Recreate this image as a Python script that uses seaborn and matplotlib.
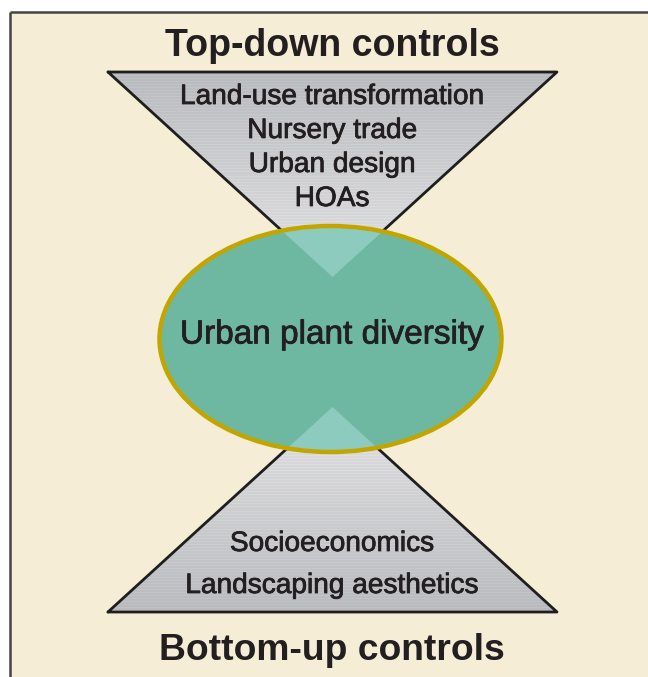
import numpy as np
import pandas as pd
import matplotlib
matplotlib.use("Agg")
import matplotlib.pyplot as plt
from matplotlib.patches import Polygon, Ellipse, Rectangle
import matplotlib.patheffects as pe
import seaborn as sns

# ---- content ----
top_title = "Top-down controls"
bottom_title = "Bottom-up controls"
top_items = ["Land-use transformation", "Nursery trade", "Urban design", "HOAs"]
bottom_items = ["Socioeconomics", "Landscaping aesthetics"]
center_label = "Urban plant diversity"

# ---- geometry (pixel space) ----
W, H = 648, 677
top_tri_x = [108, 557, 332.5]
top_tri_y = [72, 72, 277]
bot_tri_x = [108, 557, 332.5]
bot_tri_y = [612, 612, 407]
ell_center = (330.5, 339)
ell_size = (342, 226)
top_item_y = [97, 131, 165, 199]
bottom_item_y = [544, 586]

sns.set_theme(style="white")
plt.rcParams['font.family'] = ['Liberation Sans', 'DejaVu Sans']

fig = plt.figure(figsize=(W / 100, H / 100), dpi=100)
fig.patch.set_facecolor("#F5EDD6")
ax = fig.add_axes([0, 0, 1, 1])
ax.set_xlim(0, W)
ax.set_ylim(H, 0)
ax.axis("off")

bg = "#F5EDD6"
# white margin left of and above the frame
ax.add_patch(Rectangle((-10, -10), 19.5, H + 20, facecolor="white", edgecolor="none", zorder=0))
ax.add_patch(Rectangle((-10, -10), W + 20, 22, facecolor="white", edgecolor="none", zorder=0))
ax.plot([9.5, 9.5], [12, H + 5], color="#444444", lw=1.8, zorder=0.5, solid_capstyle="butt")
ax.plot([9.5, W + 5], [12, 12], color="#444444", lw=1.8, zorder=0.5, solid_capstyle="butt")

def gradient_triangle(xs, ys, top_col, bot_col):
    poly = Polygon(list(zip(xs, ys)), closed=True, facecolor="none", edgecolor="none")
    ax.add_patch(poly)
    y0, y1 = min(ys), max(ys)
    n = int(y1 - y0) + 1
    t = np.linspace(0, 1, n)[:, None]
    c0 = np.array(matplotlib.colors.to_rgb(top_col))
    c1 = np.array(matplotlib.colors.to_rgb(bot_col))
    img = c0 + (c1 - c0) * t[:, :, None] * np.ones((1, 2, 1))
    stripes = (np.arange(n) % 3 == 0)[:, None, None] * 0.025
    img = np.clip(img + stripes, 0, 1)
    im = ax.imshow(img, extent=[min(xs), max(xs), y1, y0], aspect="auto",
                   interpolation="nearest", zorder=1)
    im.set_clip_path(poly)

gradient_triangle(top_tri_x, top_tri_y, "#B9BABD", "#E2E2E4")
gradient_triangle(bot_tri_x, bot_tri_y, "#E2E2E4", "#B9BABD")

# triangle outlines via seaborn
for xs, ys in [(top_tri_x, top_tri_y), (bot_tri_x, bot_tri_y)]:
    df = pd.DataFrame({"x": xs + [xs[0]], "y": ys + [ys[0]]})
    sns.lineplot(data=df, x="x", y="y", sort=False, estimator=None, color="#1e1e1e",
                 lw=2.0, ax=ax, zorder=2)
ax.set_xlim(0, W)
ax.set_ylim(H, 0)
ax.axis("off")

# ellipse fill
ax.add_patch(Ellipse(ell_center, ell_size[0], ell_size[1], facecolor="#6EB8A1",
                     edgecolor="none", zorder=3))
clip_ell = Ellipse(ell_center, ell_size[0], ell_size[1], facecolor="none", edgecolor="none")
ax.add_patch(clip_ell)
for xs, ys in [(top_tri_x, top_tri_y), (bot_tri_x, bot_tri_y)]:
    p = Polygon(list(zip(xs, ys)), closed=True, facecolor="#8DCBBE", edgecolor="none", zorder=4)
    ax.add_patch(p)
    p.set_clip_path(clip_ell)
ax.add_patch(Ellipse(ell_center, ell_size[0], ell_size[1], facecolor="none",
                     edgecolor="#C3A500", lw=3.2, zorder=5))

txt = "#231F20"
heavy = [pe.withStroke(linewidth=0.55, foreground=txt)]
ax.text(332, 46, top_title, ha="center", va="center", fontsize=27, fontweight="bold", color=txt, zorder=6)
ax.text(332, 650, bottom_title, ha="center", va="center", fontsize=26.8, fontweight="bold", color=txt, zorder=6)
for s, y in zip(top_items, top_item_y):
    ax.text(332, y, s, ha="center", va="center", fontsize=20.2, color=txt, zorder=6, path_effects=heavy)
for s, y in zip(bottom_items, bottom_item_y):
    ax.text(332, y, s, ha="center", va="center", fontsize=20.2, color=txt, zorder=6, path_effects=heavy)
ax.text(332, 335, center_label, ha="center", va="center", fontsize=24, color=txt, zorder=6, path_effects=heavy)

fig.savefig("out.png", dpi=100, facecolor=fig.get_facecolor())
